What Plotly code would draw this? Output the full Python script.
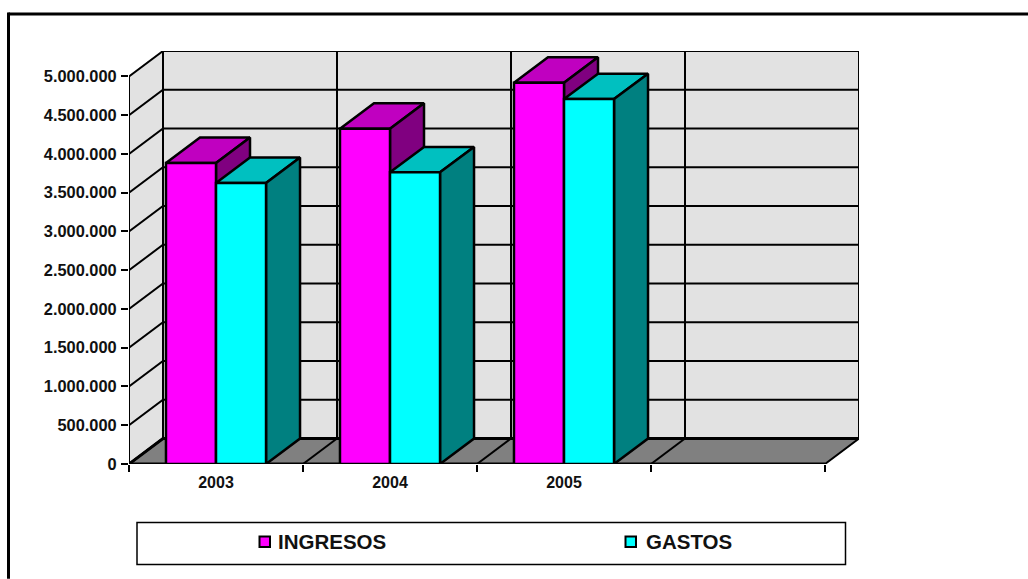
"""Ingresos / gastos por año: 3D-look column chart drawn with Plotly."""

import plotly.graph_objects as go

# ── Data ──────────────────────────────────────────────────────────────────────
YEARS    = ["2003", "2004", "2005", " "]
INGRESOS = [3883000, 4326000, 4919000, None]
GASTOS   = [3625000, 3763000, 4708000, None]
Y_TICKS  = [0, 500000, 1000000, 1500000, 2000000, 2500000,
            3000000, 3500000, 4000000, 4500000, 5000000]
Y_LABELS = ["0", "500.000", "1.000.000", "1.500.000", "2.000.000", "2.500.000",
            "3.000.000", "3.500.000", "4.000.000", "4.500.000", "5.000.000"]

# ── Colour palette ────────────────────────────────────────────────────────────
MAGENTA      = "#ff00ff"
MAGENTA_TOP  = "#c000c0"
MAGENTA_SIDE = "#800080"
CYAN         = "#00ffff"
CYAN_TOP     = "#00c0c0"
CYAN_SIDE    = "#008080"
WALL         = "#e2e2e2"
FLOOR        = "#808080"
INK          = "#000000"
TEXT         = "#111111"
FONT         = "Liberation Sans, Arial, sans-serif"

# ── Geometry ──────────────────────────────────────────────────────────────────
W, H = 1028, 579
LEFT, RIGHT, TOP, BOTTOM = 129, 859, 50.5, 464
BAR_GAP = 0.425
N_CAT   = len(YEARS)
CAT_PX  = 174
Y_PX    = 388 / 5000000
DX = 34 / CAT_PX     # depth of the box, in categories
DY = 25.5 / Y_PX     # depth of the box, in axis units
X0 = -0.5
X_RANGE = [X0, X0 + N_CAT + DX]
Y_RANGE = [0, 5000000 + DY]


def px_x(x):
    return (x - LEFT) / (RIGHT - LEFT)


def px_y(y):
    return (BOTTOM - y) / (BOTTOM - TOP)


def poly(xs, ys, fill, width=2):
    return go.Scatter(x=xs, y=ys, mode="lines", fill="toself", fillcolor=fill,
                      line=dict(color=INK, width=width), hoverinfo="skip",
                      showlegend=False)


def lines(xs, ys, width=2):
    return go.Scatter(x=xs, y=ys, mode="lines", line=dict(color=INK, width=width),
                      hoverinfo="skip", showlegend=False)


def box_faces(values, x_off, top_col, side_col):
    """Top and right faces of one series' columns."""
    half = (1 - BAR_GAP) / 2
    traces = []
    for i, v in enumerate(values):
        if v is None:
            continue
        a = i + x_off
        b = a + half
        traces.append(poly([a, b, b + DX, a + DX, a],
                           [v, v, v + DY, v + DY, v], top_col, width=2.5))
        traces.append(poly([b, b + DX, b + DX, b, b],
                           [v, v + DY, DY, 0, v], side_col, width=2.5))
    return traces


fig = go.Figure()

# Walls and floor
xb0, xb1 = X0 + DX, X0 + N_CAT + DX
xf1 = X0 + N_CAT
top_val = Y_TICKS[-1]
fig.add_trace(poly([X0, xb0, xb0, X0, X0], [0, DY, top_val + DY, top_val, 0], WALL))
fig.add_trace(poly([xb0, xb1, xb1, xb0, xb0],
                   [DY, DY, top_val + DY, top_val + DY, DY], WALL))

# Gridlines on the walls
gx, gy = [], []
for t in Y_TICKS[1:-1]:
    gx += [X0, xb0, xb1, None]
    gy += [t, t + DY, t + DY, None]
for k in range(1, N_CAT):
    gx += [X0 + k + DX, X0 + k + DX, None]
    gy += [DY, top_val + DY, None]
fig.add_trace(lines(gx, gy))

fig.add_trace(poly([X0, xf1, xb1, xb0, X0], [0, 0, DY, DY, 0], FLOOR))
fx, fy = [], []
for k in range(1, N_CAT):
    fx += [X0 + k, X0 + k + DX, None]
    fy += [0, DY, None]
fig.add_trace(lines(fx, fy))
fig.add_trace(lines([X0, xb0, xb1], [0, DY, DY], width=3))
fig.add_trace(lines([X0, xf1], [0, 0], width=3))

half_w = (1 - BAR_GAP) / 2
for tr in box_faces(INGRESOS, -half_w, MAGENTA_TOP, MAGENTA_SIDE):
    fig.add_trace(tr)
for tr in box_faces(GASTOS, 0, CYAN_TOP, CYAN_SIDE):
    fig.add_trace(tr)

# Front faces sit on an overlay axis so they cover the side faces
fig.add_trace(go.Bar(name="INGRESOS", x=YEARS, y=INGRESOS, xaxis="x2", yaxis="y2",
                     marker=dict(color=MAGENTA, line=dict(color=INK, width=2.5))))
fig.add_trace(go.Bar(name="GASTOS", x=YEARS, y=GASTOS, xaxis="x2", yaxis="y2",
                     marker=dict(color=CYAN, line=dict(color=INK, width=2.5))))

# Outer frame and legend box
shapes = [
    dict(type="line", xref="paper", yref="paper", x0=px_x(8.5), x1=px_x(1028),
         y0=px_y(13.5), y1=px_y(13.5), line=dict(color=INK, width=3)),
    dict(type="line", xref="paper", yref="paper", x0=px_x(8.5), x1=px_x(8.5),
         y0=px_y(12), y1=px_y(579), line=dict(color=INK, width=3)),
    dict(type="rect", xref="paper", yref="paper", x0=px_x(137), x1=px_x(845.5),
         y0=px_y(522.5), y1=px_y(564.5), line=dict(color=INK, width=1.5)),
    dict(type="rect", xref="paper", yref="paper", x0=px_x(259.5), x1=px_x(270),
         y0=px_y(536.5), y1=px_y(547), fillcolor=MAGENTA, line=dict(color=INK, width=2)),
    dict(type="rect", xref="paper", yref="paper", x0=px_x(625.5), x1=px_x(636),
         y0=px_y(536.5), y1=px_y(547), fillcolor=CYAN, line=dict(color=INK, width=2)),
]
annotations = [
    dict(text="<b>INGRESOS</b>", xref="paper", yref="paper", x=px_x(275.5), y=px_y(541.5),
         xanchor="left", yanchor="middle", showarrow=False,
         font=dict(size=20.5, color=TEXT, family=FONT)),
    dict(text="<b>GASTOS</b>", xref="paper", yref="paper", x=px_x(644), y=px_y(541.5),
         xanchor="left", yanchor="middle", showarrow=False,
         font=dict(size=20.5, color=TEXT, family=FONT)),
]

fig.update_layout(
    width=W, height=H,
    margin=dict(l=LEFT, r=W - RIGHT, t=TOP, b=H - BOTTOM, autoexpand=False),
    paper_bgcolor="white", plot_bgcolor="white",
    showlegend=False,
    barmode="group", bargap=BAR_GAP, bargroupgap=0,
    shapes=shapes, annotations=annotations,
    font=dict(family=FONT, color=TEXT),
    xaxis=dict(range=X_RANGE, visible=False),
    yaxis=dict(range=Y_RANGE, visible=False),
    xaxis2=dict(type="category", overlaying="x", categoryorder="array",
                categoryarray=YEARS, range=X_RANGE, tickson="boundaries",
                ticks="outside", ticklen=7, tickwidth=2, tickcolor=INK,
                showgrid=False, showline=False, zeroline=False,
                ticklabelstandoff=7,
                tickfont=dict(size=16, color=TEXT, family=FONT),
                tickprefix="<b>", ticksuffix="</b>"),
    yaxis2=dict(overlaying="y", range=Y_RANGE, tickvals=Y_TICKS,
                ticktext=["<b>" + s + "</b>" for s in Y_LABELS],
                ticks="outside", ticklen=7, tickwidth=2, tickcolor=INK,
                showgrid=False, showline=False, zeroline=False,
                ticklabelstandoff=1,
                tickfont=dict(size=16.4, color=TEXT)),
)

fig.write_html("out.html", config=dict(displayModeBar=False),
               post_script="document.body.style.margin='0';")
